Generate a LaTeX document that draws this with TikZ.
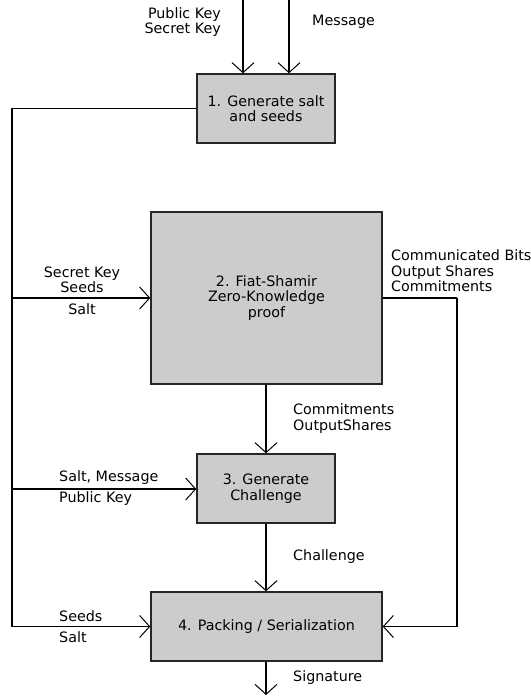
\documentclass[tikz,border=0pt]{standalone}
\usepackage{fontspec}
\setmainfont{DejaVu Sans}
\usetikzlibrary{arrows.meta}
\begin{document}
\begin{tikzpicture}[x=1pt,y=-1pt,
  font=\fontsize{14.3}{15.4}\selectfont,
  box/.style={draw=black!85,line width=1.4pt,fill=black!20,align=center,inner sep=0pt},
  lbl/.style={inner sep=0pt,align=left},
  conn/.style={line width=1.1pt},
  arr/.style={conn,-{Straight Barb[length=10pt,width=22pt,line width=1pt]}}]
\useasboundingbox (0,0) rectangle (530,698);
% boxes
\node[box,minimum width=138pt,minimum height=69pt] (b1) at (266,108.5) {1. Generate salt\\and seeds};
\node[box,minimum width=231pt,minimum height=172pt] (b2) at (266.5,298) {2. Fiat-Shamir\\Zero-Knowledge\\proof};
\node[box,minimum width=138pt,minimum height=69pt] (b3) at (266,488.5) {3. Generate\\Challenge};
\node[box,minimum width=231pt,minimum height=69pt] (b4) at (266.5,626.5) {4. Packing / Serialization};
% coordinates
\coordinate (t1) at (243,0);
\coordinate (t2) at (289,0);
\coordinate (l2) at (12,298);
\coordinate (l3) at (12,489);
\coordinate (l4) at (12,626.5);
\coordinate (r2) at (457,298);
\coordinate (sig) at (266,695);
% connectors
\draw[arr] (t1) -- (t1 |- b1.north);
\draw[arr] (t2) -- (t2 |- b1.north);
\draw[conn] (b1.west) -| (l4);
\draw[arr] (l2) -- (b2.west);
\draw[arr] (l3) -- (l3 -| b3.west);
\draw[arr] (l4) -- (b4.west);
\draw[conn] (b2.east) -- (r2);
\draw[arr] (r2) |- (b4.east);
\draw[arr] (b2.south -| b3.north) -- (b3.north);
\draw[arr] (b3.south) -- (b3.south |- b4.north);
\draw[arr] (b4.south -| sig) -- (sig);
% labels
\node[lbl,align=right,anchor=east] (lpk) at (221,22) {Public Key\\Secret Key};
\node[lbl,anchor=west] (lmsg) at (312,22) {Message};
\node[lbl,align=center] (lsks) at (82,280) {Secret Key\\Seeds};
\node[lbl] (lsalt2) at (82,309) {Salt};
\node[lbl,anchor=west] (lcb) at (391,271) {Communicated Bits\\Output Shares\\Commitments};
\node[lbl,anchor=west] (lcos) at (293,418.5) {Commitments\\OutputShares};
\node[lbl,anchor=west] (lsm) at (59,478) {Salt, Message};
\node[lbl,anchor=west] (lpk3) at (59,498.5) {Public Key};
\node[lbl,anchor=west] (lch) at (293,557) {Challenge};
\node[lbl,anchor=west] (lseeds) at (59,616) {Seeds};
\node[lbl,anchor=west] (lsalt4) at (59,637) {Salt};
\node[lbl,anchor=west] (lsig) at (293,678) {Signature};
\end{tikzpicture}
\end{document}
